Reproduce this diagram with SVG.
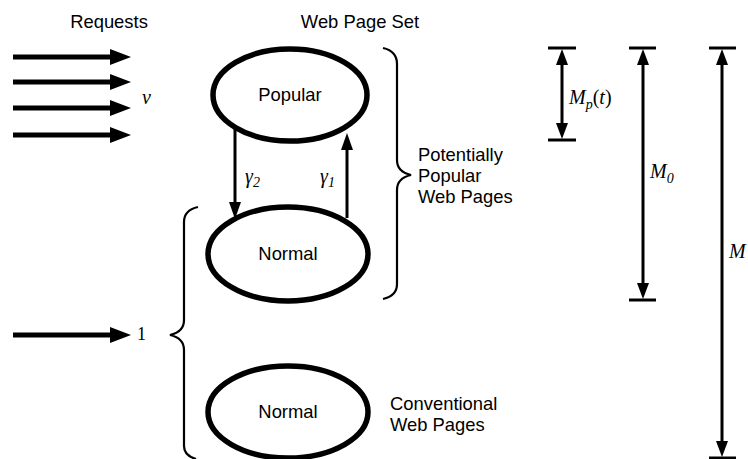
<svg xmlns="http://www.w3.org/2000/svg" width="748" height="459" viewBox="0 0 748 459">
<style>
.lbl{font-family:"Liberation Sans",Arial,sans-serif;font-size:18.4px;fill:#000}
.math{font-family:"Liberation Serif","Times New Roman",serif;font-style:italic;font-size:20px;fill:#000}
.up{font-style:normal}
.node{fill:#fff;stroke:#000;stroke-width:5.5}
.brace{fill:none;stroke:#000;stroke-width:2.2}
.req{stroke:#000;stroke-width:5}
.thin{stroke:#000;stroke-width:3}
.bar{stroke:#000;stroke-width:3}
</style>
<rect width="748" height="459" fill="#fff"/>
<text class="lbl" x="109" y="28" text-anchor="middle">Requests</text>
<text class="lbl" x="360" y="28" text-anchor="middle">Web Page Set</text>

<g id="connectors">
  <g id="requests">
    <line class="req" x1="13" y1="57" x2="112" y2="57"/><polygon points="110,49 131,57 110,65"/>
    <line class="req" x1="13" y1="82" x2="112" y2="82"/><polygon points="110,74 131,82 110,90"/>
    <line class="req" x1="13" y1="108" x2="112" y2="108"/><polygon points="110,100 131,108 110,116"/>
    <line class="req" x1="13" y1="135" x2="112" y2="135"/><polygon points="110,127 131,135 110,143"/>
    <line class="req" x1="13" y1="335" x2="112" y2="335"/><polygon points="110,327 131,335 110,343"/>
  </g>
  <g id="gamma2">
    <line class="thin" x1="235" y1="128" x2="235" y2="204"/><polygon points="229,202 235,219 241,202"/>
  </g>
  <g id="gamma1">
    <line class="thin" x1="347" y1="218" x2="347" y2="148"/><polygon points="341,150 347,133 353,150"/>
  </g>
</g>

<g id="popular">
  <ellipse class="node" cx="290" cy="95" rx="77" ry="46"/>
  <text class="lbl" x="290" y="101" text-anchor="middle">Popular</text>
</g>
<g id="normal1">
  <ellipse class="node" cx="288" cy="254" rx="80" ry="47"/>
  <text class="lbl" x="288" y="260" text-anchor="middle">Normal</text>
</g>
<g id="normal2">
  <ellipse class="node" cx="288" cy="412" rx="80" ry="46"/>
  <text class="lbl" x="288" y="418" text-anchor="middle">Normal</text>
</g>

<text class="math" x="142" y="104" font-size="17">v</text>
<text class="math up" x="137" y="340" style="font-size:18px">1</text>
<text class="math" x="245" y="183">γ<tspan style="font-size:14px" dy="4">2</tspan></text>
<text class="math" x="320" y="183">γ<tspan style="font-size:14px" dy="4">1</tspan></text>

<g id="brace-right">
  <path class="brace" d="M383,48 C392,50 397,55 397,64 L397,160 C397,168 402,173 411,175 C402,177 397,182 397,190 L397,284 C397,292 392,297 383,299"/>
  <text class="lbl"><tspan x="418" y="161">Potentially</tspan><tspan x="418" y="182">Popular</tspan><tspan x="418" y="203">Web Pages</tspan></text>
</g>
<g id="brace-left">
  <path class="brace" d="M198,207 C189,209 184,214 184,222 L184,320 C184,328 179,333 170,335 C179,337 184,342 184,350 L184,446 C184,453 189,457 196,459"/>
</g>
<text class="lbl"><tspan x="390" y="410">Conventional</tspan><tspan x="390" y="431">Web Pages</tspan></text>

<g id="dim-mp">
  <line class="bar" x1="548" y1="48" x2="576" y2="48"/>
  <line class="bar" x1="548" y1="140" x2="576" y2="140"/>
  <line class="thin" x1="562" y1="60" x2="562" y2="128"/>
  <polygon points="556,65 562,49 568,65"/>
  <polygon points="556,123 562,139 568,123"/>
  <text class="math" x="569" y="104">M<tspan style="font-size:14px" dy="5">p</tspan><tspan class="up" dy="-5">(</tspan>t<tspan class="up">)</tspan></text>
</g>
<g id="dim-m0">
  <line class="bar" x1="629" y1="48" x2="656" y2="48"/>
  <line class="bar" x1="629" y1="300" x2="656" y2="300"/>
  <line class="thin" x1="643" y1="60" x2="643" y2="288"/>
  <polygon points="637,65 643,49 649,65"/>
  <polygon points="637,283 643,299 649,283"/>
  <text class="math" x="650" y="178">M<tspan style="font-size:14px" dy="5">0</tspan></text>
</g>
<g id="dim-m">
  <line class="bar" x1="709" y1="48" x2="736" y2="48"/>
  <line class="bar" x1="709" y1="458" x2="736" y2="458" stroke="#ccc"/>
  <line class="thin" x1="722" y1="60" x2="722" y2="446"/>
  <polygon points="716,65 722,49 728,65"/>
  <polygon points="716,441 722,457 728,441"/>
  <text class="math" x="729" y="258">M</text>
</g>
</svg>
